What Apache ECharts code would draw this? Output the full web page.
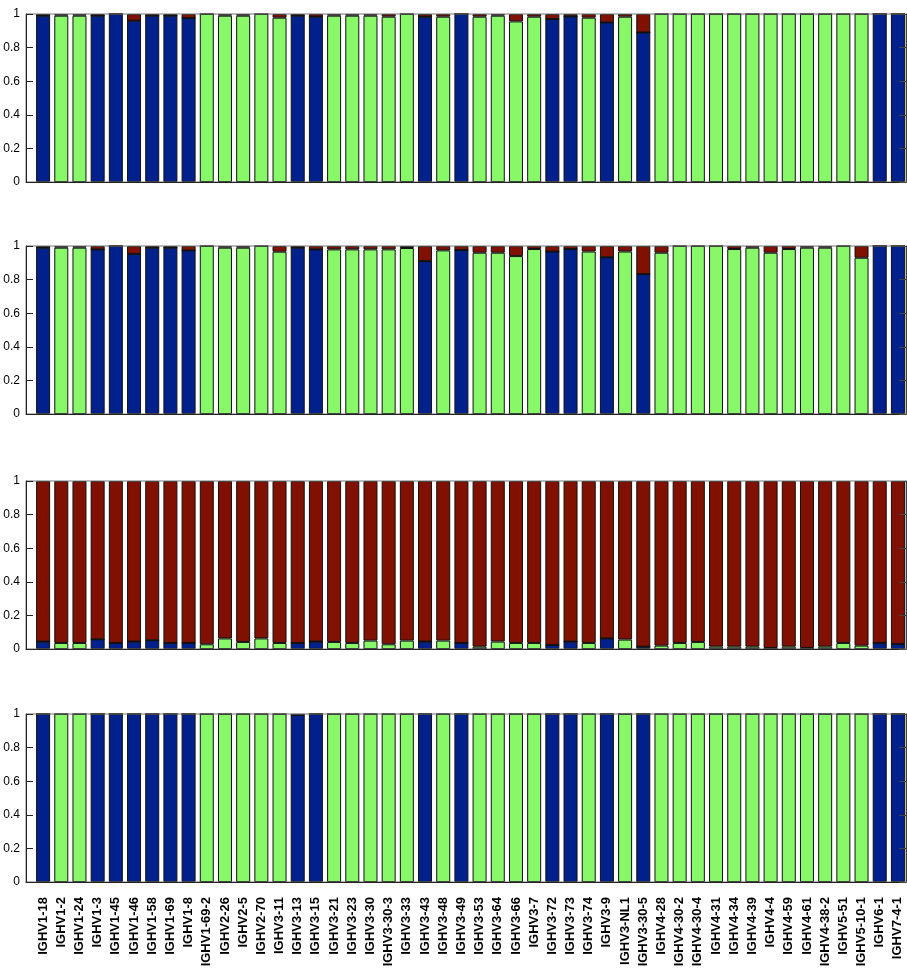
<!DOCTYPE html>
<html>
<head>
<meta charset="utf-8">
<script src="https://cdn.jsdelivr.net/npm/echarts@6/dist/echarts.min.js"></script>
<style>
html,body{margin:0;padding:0;background:#fff;}
#chart{width:907px;height:977px;}
</style>
</head>
<body>
<div id="chart"></div>
<script>
var categories = ['IGHV1-18','IGHV1-2','IGHV1-24','IGHV1-3','IGHV1-45','IGHV1-46','IGHV1-58','IGHV1-69','IGHV1-8','IGHV1-69-2','IGHV2-26','IGHV2-5','IGHV2-70','IGHV3-11','IGHV3-13','IGHV3-15','IGHV3-21','IGHV3-23','IGHV3-30','IGHV3-30-3','IGHV3-33','IGHV3-43','IGHV3-48','IGHV3-49','IGHV3-53','IGHV3-64','IGHV3-66','IGHV3-7','IGHV3-72','IGHV3-73','IGHV3-74','IGHV3-9','IGHV3-NL1','IGHV3-30-5','IGHV4-28','IGHV4-30-2','IGHV4-30-4','IGHV4-31','IGHV4-34','IGHV4-39','IGHV4-4','IGHV4-59','IGHV4-61','IGHV4-38-2','IGHV5-51','IGHV5-10-1','IGHV6-1','IGHV7-4-1'];

var yTicks = [0, 0.2, 0.4, 0.6, 0.8, 1];

// Panel 1
var blue1  = [.99,0,0,.99,1,.96,.99,.99,.976,0,0,0,0,0,.99,.984,0,0,0,0,0,.984,0,1,0,0,0,0,.97,.986,0,.95,0,.89,0,0,0,0,0,0,0,0,0,0,0,0,1,1];
var green1 = [0,.99,.99,0,0,0,0,0,0,1,.99,.99,1,.978,0,0,.99,.99,.99,.984,1,0,.984,0,.984,.99,.956,.984,0,0,.978,0,.984,0,1,1,1,1,1,1,1,1,1,1,1,1,0,0];
var red1   = [.01,.01,.01,.01,0,.04,.01,.01,.024,0,.01,.01,0,.022,.01,.016,.01,.01,.01,.016,0,.016,.016,0,.016,.01,.044,.016,.03,.014,.022,.05,.016,.11,0,0,0,0,0,0,0,0,0,0,0,0,0,0];

// Panel 2
var blue2  = [.99,0,0,.98,1,.953,.99,.99,.974,0,0,0,0,0,.99,.98,0,0,0,0,0,.91,0,.976,0,0,0,0,.967,.982,0,.933,0,.833,0,0,0,0,0,0,0,0,0,0,0,0,1,1];
var green2 = [0,.99,.99,0,0,0,0,0,0,1,.99,.99,1,.966,0,0,.98,.98,.98,.98,.988,0,.974,0,.96,.96,.94,.982,0,0,.967,0,.967,0,.96,1,1,1,.982,.99,.96,.982,.99,.99,1,.93,0,0];
var red2   = [.01,.01,.01,.02,0,.047,.01,.01,.026,0,.01,.01,0,.034,.01,.02,.02,.02,.02,.02,.012,.09,.026,.024,.04,.04,.06,.018,.033,.018,.033,.067,.033,.167,.04,0,0,0,.018,.01,.04,.018,.01,.01,0,.07,0,0];

// Panel 3
var blue3  = [.044,0,0,.058,.036,.044,.052,.036,.036,0,0,0,0,0,.036,.044,0,0,0,0,0,.044,0,.036,0,0,0,0,.024,.044,0,.063,0,.014,0,0,0,0,0,0,0,0,0,0,0,0,.036,.03];
var green3 = [0,.036,.036,0,0,0,0,0,0,.028,.063,.042,.063,.036,0,0,.042,.036,.05,.028,.05,0,.05,0,.014,.044,.036,.036,0,0,.036,0,.056,0,.02,.036,.042,.014,.014,.014,.006,.014,.006,.014,.036,.02,0,0];
var red3   = [.956,.964,.964,.942,.964,.956,.948,.964,.964,.972,.937,.958,.937,.964,.964,.956,.958,.964,.95,.972,.95,.956,.95,.964,.986,.956,.964,.964,.976,.956,.964,.937,.944,.986,.98,.964,.958,.986,.986,.986,.994,.986,.994,.986,.964,.98,.964,.97];

// Panel 4
var blue4  = [1,0,0,1,1,1,1,1,1,0,0,0,0,0,.995,1,0,0,0,0,0,1,0,1,0,0,0,0,1,1,0,1,0,1,0,0,0,0,0,0,0,0,0,0,0,0,1,1];
var green4 = [0,1,1,0,0,0,0,0,0,1,1,1,1,1,0,0,1,1,1,1,1,0,1,0,1,1,1,1,0,0,1,0,1,0,1,1,1,1,1,1,1,1,1,1,1,1,0,0];
var red4   = [0,0,0,0,0,0,0,0,0,0,0,0,0,0,.005,0,0,0,0,0,0,0,0,0,0,0,0,0,0,0,0,0,0,0,0,0,0,0,0,0,0,0,0,0,0,0,0,0];

var panels = [[blue1, green1, red1], [blue2, green2, red2], [blue3, green3, red3], [blue4, green4, red4]];
var colors = ['#00208c', '#88f868', '#801000'];
var names = ['blue', 'green', 'red'];

var tops = [14, 246, 481, 714];
var H = 168;
var grids = [], xAxes = [], yAxes = [], series = [];
var font = 'Liberation Sans, Arial, sans-serif';

tops.forEach(function (t, p) {
  grids.push({ left: 34, right: 0, top: t, height: H, show: false });
  grids.push({ left: 26, right: 1, top: t, height: H, show: true, borderColor: '#777', borderWidth: 1, backgroundColor: 'transparent', z: 5 });

  xAxes.push({
    gridIndex: 2 * p, type: 'category', data: categories, boundaryGap: true,
    axisLine: { show: false }, axisTick: { show: false }, splitLine: { show: false },
    axisLabel: p === 3 ? {
      show: true, rotate: 90, margin: 15, interval: 0,
      fontFamily: font, fontWeight: 'bold', fontSize: 13, color: '#000'
    } : { show: false }
  });
  xAxes.push({
    gridIndex: 2 * p + 1, type: 'value', min: 0, max: 1, z: 5,
    axisLine: { show: true, lineStyle: { color: '#222', width: 1 } },
    axisTick: { show: false }, splitLine: { show: false }, axisLabel: { show: false }
  });

  yAxes.push({
    gridIndex: 2 * p, type: 'value', min: yTicks[0], max: yTicks[yTicks.length - 1], interval: 0.2,
    axisLine: { show: false }, axisTick: { show: false }, splitLine: { show: false }, axisLabel: { show: false }
  });
  yAxes.push({
    gridIndex: 2 * p + 1, type: 'value', min: yTicks[0], max: yTicks[yTicks.length - 1], interval: 0.2, position: 'left', z: 5,
    axisLine: { show: true, lineStyle: { color: '#222', width: 1 } },
    axisTick: { show: true, inside: true, length: 7, lineStyle: { color: '#222' } },
    splitLine: { show: false },
    axisLabel: { show: true, margin: 6, fontFamily: font, fontSize: 12, color: '#000',
      formatter: function (v) { return String(Math.round(v * 10) / 10); } }
  });
  yAxes.push({
    gridIndex: 2 * p + 1, type: 'value', min: yTicks[0], max: yTicks[yTicks.length - 1], interval: 0.2, position: 'right', z: 5,
    axisLine: { show: true, lineStyle: { color: '#444', width: 1 } },
    axisTick: { show: true, inside: true, length: 7, lineStyle: { color: '#444' } },
    splitLine: { show: false }, axisLabel: { show: false }
  });

  panels[p].forEach(function (arr, k) {
    series.push({
      name: names[k] + p, type: 'bar', xAxisIndex: 2 * p, yAxisIndex: 3 * p, stack: 'p' + p,
      barWidth: 14,
      itemStyle: { color: colors[k], borderColor: '#111', borderWidth: 1 },
      emphasis: { disabled: true },
      data: arr
    });
  });
});

var chart = echarts.init(document.getElementById('chart'), null, { renderer: 'canvas' });
chart.setOption({
  animation: false,
  backgroundColor: '#fff',
  grid: grids, xAxis: xAxes, yAxis: yAxes, series: series
});
</script>
</body>
</html>
